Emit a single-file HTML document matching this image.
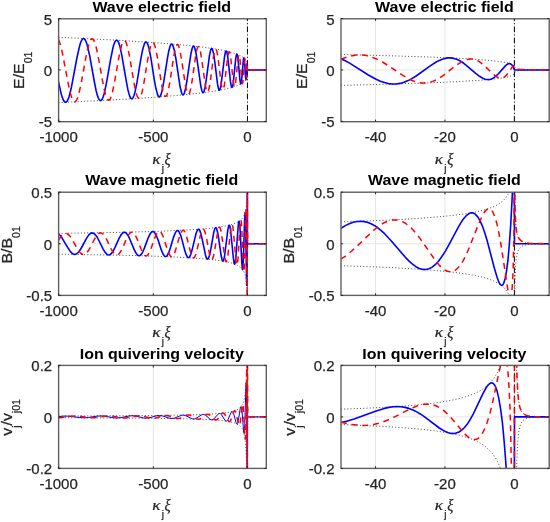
<!DOCTYPE html>
<html><head><meta charset="utf-8"><style>
html,body{margin:0;padding:0;background:#fff;}
svg{display:block;will-change:transform;}
text{font-family:"Liberation Sans",sans-serif;fill:#262626;stroke:#262626;stroke-width:0.25px;}
.t{font-size:15px;}
.ti{font-size:15.3px;font-weight:bold;fill:#000;stroke:none;}
.xl,.yl{font-size:15px;}
.sub{font-size:10px;}
.gr{font-family:"Liberation Serif",serif;font-style:italic;}
</style></head><body>
<svg width="550" height="522" viewBox="0 0 550 522">
<defs><clipPath id="c1"><rect x="58.6" y="18.8" width="207.70000000000002" height="102.9"/></clipPath><clipPath id="c2"><rect x="341.0" y="18.8" width="208.20000000000005" height="102.9"/></clipPath><clipPath id="c3"><rect x="58.6" y="192.2" width="207.70000000000002" height="103.19999999999999"/></clipPath><clipPath id="c4"><rect x="341.0" y="192.2" width="208.20000000000005" height="103.19999999999999"/></clipPath><clipPath id="c5"><rect x="58.6" y="365.4" width="207.70000000000002" height="103.0"/></clipPath><clipPath id="c6"><rect x="341.0" y="365.4" width="208.20000000000005" height="103.0"/></clipPath></defs>
<rect width="550" height="522" fill="#fff"/>
<line x1="58.60" y1="18.8" x2="58.60" y2="121.7" stroke="#e6e6e6" stroke-width="1"/>
<line x1="153.35" y1="18.8" x2="153.35" y2="121.7" stroke="#e6e6e6" stroke-width="1"/>
<line x1="247.45" y1="18.8" x2="247.45" y2="121.7" stroke="#e6e6e6" stroke-width="1"/>
<line x1="58.6" y1="69.95" x2="266.3" y2="69.95" stroke="#e6e6e6" stroke-width="1"/>
<g clip-path="url(#c1)">
<line x1="247.45" y1="121.7" x2="247.45" y2="18.8" stroke="#000" stroke-width="1.0" stroke-dasharray="5.6 2.3 1 2.3"/>
<path d="M58.5 37.3 111.5 39.9 154.6 42.6 172.6 44.1 188.4 45.5 202.1 47.1 213.7 48.7 223.5 50.5 231.3 52.3 237.4 54.3 241.9 56.5 244.7 58.6 245.7 59.8 246.4 61.0 247.2 63.8 247.6 68.9 247.8 69.5 248.2 69.8 250.0 69.9 266.3 69.9" fill="none" stroke="#333" stroke-width="0.9" stroke-dasharray="1 2.2"/>
<path d="M58.5 102.6 111.5 100.0 154.6 97.3 172.6 95.8 188.4 94.4 202.1 92.8 213.7 91.2 223.5 89.4 231.3 87.6 237.4 85.6 241.9 83.4 244.7 81.3 245.7 80.1 246.4 78.9 247.2 76.1 247.6 71.0 247.8 70.4 248.2 70.1 250.0 70.0 266.3 70.0" fill="none" stroke="#333" stroke-width="0.9" stroke-dasharray="1 2.2"/>
<path d="M58.5 81.6 61.0 93.1 62.1 96.9 63.2 99.8 64.3 101.5 65.4 102.3 65.9 102.2 66.4 102.0 67.4 100.7 68.3 98.9 69.2 96.3 71.1 88.8 77.1 57.0 79.3 47.2 80.3 43.5 81.4 40.8 82.4 39.1 83.5 38.4 84.4 38.8 85.4 40.2 86.4 42.5 87.4 45.8 89.7 55.9 94.3 81.5 96.2 91.0 97.3 95.1 98.4 98.1 99.4 99.8 100.4 100.6 101.3 100.3 102.3 99.0 103.2 96.8 104.2 93.5 106.3 83.8 110.7 58.8 112.6 49.5 113.6 45.3 114.6 42.5 115.6 40.8 116.5 40.2 117.4 40.5 118.3 41.8 119.2 44.1 120.1 47.2 122.0 56.4 126.2 80.7 127.9 89.7 128.9 93.5 129.8 96.4 130.7 98.1 131.6 98.8 132.4 98.6 133.2 97.4 134.1 95.2 135.0 92.1 136.9 82.9 140.7 59.6 142.4 50.8 144.2 44.4 145.0 42.7 145.9 42.0 146.6 42.3 147.4 43.4 148.2 45.6 149.0 48.4 150.8 57.5 154.3 79.8 155.9 88.3 157.6 94.6 158.4 96.3 159.1 96.9 159.9 96.7 160.6 95.5 161.3 93.6 162.1 90.6 163.7 82.2 167.1 60.4 168.5 52.3 170.0 46.2 170.8 44.6 171.5 44.0 172.1 44.2 172.8 45.2 174.2 49.8 175.8 58.2 180.1 86.8 181.6 92.7 182.2 94.2 182.9 94.9 183.5 94.6 184.2 93.6 185.4 89.1 186.9 81.0 190.9 53.8 192.2 48.2 192.8 46.7 193.4 46.1 193.9 46.3 194.5 47.2 195.7 51.5 197.0 59.1 200.7 85.5 201.9 90.8 202.5 92.2 203.0 92.7 203.5 92.5 204.0 91.6 205.1 87.5 206.2 80.2 209.5 55.4 210.6 50.4 211.1 49.0 211.6 48.4 212.1 48.7 212.5 49.5 213.5 53.4 214.6 60.4 217.5 83.7 218.4 88.4 218.9 89.7 219.3 90.2 219.7 90.0 220.1 89.2 221.0 85.4 224.5 57.0 225.3 52.6 225.7 51.6 226.1 51.1 226.4 51.2 226.8 52.0 227.6 55.6 230.5 81.7 231.2 85.8 231.9 87.4 232.2 87.3 232.5 86.6 233.2 83.4 235.7 59.2 236.3 55.5 236.8 54.1 237.1 54.3 237.3 54.9 237.9 57.8 239.9 79.6 240.4 82.9 240.8 84.0 241.2 83.2 241.6 80.6 243.2 61.6 243.5 58.9 243.8 57.9 244.1 58.5 244.4 60.9 245.5 76.5 246.0 79.6 246.3 77.0 247.1 63.5 247.4 70.0 266.3 70.0" fill="none" stroke="#0000ff" stroke-width="1.6" stroke-linejoin="round"/>
<path d="M58.5 39.5 60.3 44.3 62.1 51.5 68.1 83.0 70.2 92.8 71.4 96.8 72.4 99.5 73.5 101.2 74.5 101.9 75.0 101.8 75.5 101.5 76.6 100.1 77.6 97.7 78.7 94.3 81.0 84.3 85.7 58.4 87.7 48.7 88.8 44.5 89.9 41.5 90.9 39.6 92.0 38.9 92.9 39.2 93.9 40.4 94.9 42.8 95.9 46.0 98.1 56.0 102.6 81.2 104.4 90.4 105.5 94.5 106.5 97.5 107.6 99.4 108.6 100.2 109.5 99.8 110.4 98.6 111.3 96.3 112.2 93.2 114.3 83.5 118.5 59.3 120.4 49.9 121.4 45.8 122.3 43.1 123.3 41.3 124.2 40.6 125.0 40.9 125.9 42.1 126.7 44.3 127.6 47.3 129.6 56.7 133.6 80.5 135.3 89.5 136.3 93.4 137.1 96.0 138.0 97.7 138.9 98.4 139.6 98.1 140.4 97.0 141.2 94.9 142.1 91.9 143.9 82.8 147.7 59.6 149.3 51.3 150.9 44.9 151.7 43.2 152.6 42.5 153.4 42.8 154.1 43.9 154.9 45.9 155.7 48.9 157.4 57.5 160.8 79.6 162.3 88.0 163.9 94.1 164.6 95.7 165.4 96.4 166.1 96.2 166.8 95.1 168.3 90.3 169.9 81.9 173.1 60.7 174.4 52.8 176.0 46.6 176.7 45.0 177.3 44.5 178.0 44.7 178.6 45.7 179.9 50.3 181.4 58.6 185.6 86.4 187.0 92.2 187.6 93.7 188.2 94.3 188.9 94.1 189.5 93.1 190.7 88.7 192.1 80.8 195.9 54.1 197.1 48.7 197.8 47.2 198.3 46.7 198.8 46.9 199.4 47.7 200.5 51.9 201.7 59.4 205.3 85.2 206.4 90.2 206.9 91.6 207.4 92.1 207.9 91.9 208.4 90.9 209.4 86.8 210.5 79.8 213.6 55.8 214.6 50.9 215.1 49.6 215.6 49.1 216.0 49.3 216.5 50.1 217.4 53.9 218.4 60.8 221.1 83.3 222.0 87.9 222.4 89.1 222.8 89.5 223.2 89.4 223.6 88.6 224.4 84.9 227.6 57.7 228.4 53.4 228.8 52.2 229.1 51.8 229.4 51.9 229.8 52.7 230.5 55.9 233.2 81.3 233.9 85.1 234.5 86.6 234.7 86.5 235.1 85.8 235.6 82.6 237.9 59.7 238.4 56.2 238.9 55.0 239.2 55.1 239.4 55.7 239.9 58.5 241.6 78.7 242.1 81.9 242.4 83.1 242.8 82.4 243.1 79.9 244.5 62.5 245.0 59.0 245.3 59.6 245.5 61.7 246.3 75.6 246.7 78.1 246.9 75.9 247.4 65.9 247.6 69.0 247.9 69.6 248.4 69.9 266.3 69.9" fill="none" stroke="#ff0000" stroke-width="1.5" stroke-dasharray="6 4.8"/>
</g>
<rect x="58.6" y="18.8" width="207.70" height="102.90" fill="none" stroke="#606060" stroke-width="1.4"/>
<line x1="58.60" y1="121.7" x2="58.60" y2="119.60000000000001" stroke="#262626" stroke-width="1.0"/>
<line x1="58.60" y1="18.8" x2="58.60" y2="20.900000000000002" stroke="#262626" stroke-width="1.0"/>
<line x1="153.35" y1="121.7" x2="153.35" y2="119.60000000000001" stroke="#262626" stroke-width="1.0"/>
<line x1="153.35" y1="18.8" x2="153.35" y2="20.900000000000002" stroke="#262626" stroke-width="1.0"/>
<line x1="247.45" y1="121.7" x2="247.45" y2="119.60000000000001" stroke="#262626" stroke-width="1.0"/>
<line x1="247.45" y1="18.8" x2="247.45" y2="20.900000000000002" stroke="#262626" stroke-width="1.0"/>
<line x1="58.6" y1="18.50" x2="60.7" y2="18.50" stroke="#262626" stroke-width="1.0"/>
<line x1="266.3" y1="18.50" x2="264.2" y2="18.50" stroke="#262626" stroke-width="1.0"/>
<line x1="58.6" y1="69.95" x2="60.7" y2="69.95" stroke="#262626" stroke-width="1.0"/>
<line x1="266.3" y1="69.95" x2="264.2" y2="69.95" stroke="#262626" stroke-width="1.0"/>
<line x1="58.6" y1="121.40" x2="60.7" y2="121.40" stroke="#262626" stroke-width="1.0"/>
<line x1="266.3" y1="121.40" x2="264.2" y2="121.40" stroke="#262626" stroke-width="1.0"/>
<text transform="translate(58.60,142.30) scale(1.0,1)" class="t" text-anchor="middle">-1000</text>
<text transform="translate(153.35,142.30) scale(1.0,1)" class="t" text-anchor="middle">-500</text>
<text transform="translate(247.45,142.30) scale(1.0,1)" class="t" text-anchor="middle">0</text>
<text transform="translate(52.20,24.50) scale(1.0,1)" class="t" text-anchor="end">5</text>
<text transform="translate(52.20,75.95) scale(1.0,1)" class="t" text-anchor="end">0</text>
<text transform="translate(52.20,127.40) scale(1.0,1)" class="t" text-anchor="end">-5</text>
<text transform="translate(161.75,12.00) scale(1.045,1)" class="ti" text-anchor="middle">Wave electric field</text>
<text transform="translate(152.15,163.60) scale(1.15,1)" class="gr" font-size="15">κ</text>
<text transform="translate(161.70,171.50)" class="sub">j</text>
<text transform="translate(164.55,164.70) scale(0.88,1)" class="gr" font-size="16.3">ξ</text>
<text transform="translate(24.40,70.25) rotate(-90) scale(1.06,1)" class="yl" text-anchor="middle">E/E<tspan class="sub" dy="7.8">01</tspan></text>
<line x1="375.55" y1="18.8" x2="375.55" y2="121.7" stroke="#e6e6e6" stroke-width="1"/>
<line x1="444.95" y1="18.8" x2="444.95" y2="121.7" stroke="#e6e6e6" stroke-width="1"/>
<line x1="514.40" y1="18.8" x2="514.40" y2="121.7" stroke="#e6e6e6" stroke-width="1"/>
<line x1="341.0" y1="69.95" x2="549.2" y2="69.95" stroke="#e6e6e6" stroke-width="1"/>
<g clip-path="url(#c2)">
<line x1="514.40" y1="121.7" x2="514.40" y2="18.8" stroke="#000" stroke-width="1.0" stroke-dasharray="5.6 2.3 1 2.3"/>
<path d="M340.9 54.5 387.7 55.7 426.1 56.9 456.7 58.2 480.2 59.6 497.2 61.2 503.3 62.1 508.0 63.0 510.6 63.8 512.6 64.6 514.0 65.7 514.7 67.3 515.5 68.1 516.9 68.8 519.0 69.2 522.5 69.6 527.7 69.8 549.1 69.9" fill="none" stroke="#333" stroke-width="0.9" stroke-dasharray="1 2.2"/>
<path d="M340.9 85.4 387.7 84.2 426.1 83.0 456.7 81.7 480.2 80.3 497.2 78.7 503.3 77.8 508.0 76.9 510.6 76.1 512.6 75.3 514.0 74.2 514.7 72.6 515.5 71.8 516.9 71.1 519.0 70.7 522.5 70.3 527.7 70.1 549.1 70.0" fill="none" stroke="#333" stroke-width="0.9" stroke-dasharray="1 2.2"/>
<path d="M340.9 58.7 345.3 60.8 350.0 63.4 368.3 75.0 376.1 79.3 380.4 81.2 384.4 82.6 388.3 83.6 392.2 84.0 396.1 84.0 400.1 83.4 404.0 82.3 408.1 80.6 411.9 78.6 416.1 76.0 430.6 65.6 436.2 62.0 439.3 60.4 442.3 59.2 445.1 58.4 447.8 57.9 450.8 57.9 453.7 58.4 456.7 59.3 459.8 60.7 462.6 62.5 465.7 64.8 475.7 73.4 479.5 76.3 483.3 78.5 485.1 79.2 486.9 79.5 488.8 79.6 490.7 79.2 492.6 78.5 494.6 77.2 498.2 74.0 505.6 65.6 507.4 64.2 509.0 63.6 510.5 63.8 511.9 64.9 513.2 67.0 514.4 69.9 549.1 70.0" fill="none" stroke="#0000ff" stroke-width="1.6" stroke-linejoin="round"/>
<path d="M340.9 59.4 344.9 57.8 348.6 56.5 352.3 55.7 355.9 55.1 359.4 54.9 363.0 55.1 366.4 55.6 370.0 56.5 376.0 58.7 382.5 62.0 388.5 65.8 402.4 75.1 409.2 79.1 412.8 80.7 416.1 81.9 419.3 82.7 422.6 83.1 426.0 83.0 429.3 82.4 432.8 81.4 436.2 79.8 439.6 77.9 443.1 75.6 455.3 66.0 460.0 62.8 462.6 61.3 465.0 60.2 467.3 59.5 469.5 59.1 472.0 59.1 474.4 59.5 476.9 60.3 479.4 61.7 481.6 63.3 484.0 65.3 491.9 73.0 494.7 75.4 497.5 77.2 500.0 78.1 501.4 78.1 502.8 77.8 504.1 77.1 505.5 76.1 508.0 73.3 512.2 67.1 513.0 66.3 513.6 65.9 514.2 66.1 514.8 67.5 515.9 68.3 517.5 68.9 520.0 69.4 528.8 69.8 549.1 69.9" fill="none" stroke="#ff0000" stroke-width="1.5" stroke-dasharray="6 4.8"/>
</g>
<rect x="341.0" y="18.8" width="208.20" height="102.90" fill="none" stroke="#606060" stroke-width="1.4"/>
<line x1="375.55" y1="121.7" x2="375.55" y2="119.60000000000001" stroke="#262626" stroke-width="1.0"/>
<line x1="375.55" y1="18.8" x2="375.55" y2="20.900000000000002" stroke="#262626" stroke-width="1.0"/>
<line x1="444.95" y1="121.7" x2="444.95" y2="119.60000000000001" stroke="#262626" stroke-width="1.0"/>
<line x1="444.95" y1="18.8" x2="444.95" y2="20.900000000000002" stroke="#262626" stroke-width="1.0"/>
<line x1="514.40" y1="121.7" x2="514.40" y2="119.60000000000001" stroke="#262626" stroke-width="1.0"/>
<line x1="514.40" y1="18.8" x2="514.40" y2="20.900000000000002" stroke="#262626" stroke-width="1.0"/>
<line x1="341.0" y1="18.50" x2="343.1" y2="18.50" stroke="#262626" stroke-width="1.0"/>
<line x1="549.2" y1="18.50" x2="547.1" y2="18.50" stroke="#262626" stroke-width="1.0"/>
<line x1="341.0" y1="69.95" x2="343.1" y2="69.95" stroke="#262626" stroke-width="1.0"/>
<line x1="549.2" y1="69.95" x2="547.1" y2="69.95" stroke="#262626" stroke-width="1.0"/>
<line x1="341.0" y1="121.40" x2="343.1" y2="121.40" stroke="#262626" stroke-width="1.0"/>
<line x1="549.2" y1="121.40" x2="547.1" y2="121.40" stroke="#262626" stroke-width="1.0"/>
<text transform="translate(375.55,142.30) scale(1.0,1)" class="t" text-anchor="middle">-40</text>
<text transform="translate(444.95,142.30) scale(1.0,1)" class="t" text-anchor="middle">-20</text>
<text transform="translate(514.40,142.30) scale(1.0,1)" class="t" text-anchor="middle">0</text>
<text transform="translate(334.60,24.50) scale(1.0,1)" class="t" text-anchor="end">5</text>
<text transform="translate(334.60,75.95) scale(1.0,1)" class="t" text-anchor="end">0</text>
<text transform="translate(334.60,127.40) scale(1.0,1)" class="t" text-anchor="end">-5</text>
<text transform="translate(444.40,12.00) scale(1.045,1)" class="ti" text-anchor="middle">Wave electric field</text>
<text transform="translate(434.80,163.60) scale(1.15,1)" class="gr" font-size="15">κ</text>
<text transform="translate(444.35,171.50)" class="sub">j</text>
<text transform="translate(447.20,164.70) scale(0.88,1)" class="gr" font-size="16.3">ξ</text>
<text transform="translate(306.80,70.25) rotate(-90) scale(1.06,1)" class="yl" text-anchor="middle">E/E<tspan class="sub" dy="7.8">01</tspan></text>
<line x1="58.60" y1="192.2" x2="58.60" y2="295.4" stroke="#e6e6e6" stroke-width="1"/>
<line x1="153.35" y1="192.2" x2="153.35" y2="295.4" stroke="#e6e6e6" stroke-width="1"/>
<line x1="247.45" y1="192.2" x2="247.45" y2="295.4" stroke="#e6e6e6" stroke-width="1"/>
<line x1="58.6" y1="243.80" x2="266.3" y2="243.80" stroke="#e6e6e6" stroke-width="1"/>
<g clip-path="url(#c3)">
<line x1="247.45" y1="295.4" x2="247.45" y2="192.2" stroke="#000" stroke-width="1.0" stroke-dasharray="5.6 2.3 1 2.3"/>
<path d="M58.5 233.4 133.1 232.1 160.7 231.2 183.0 230.2 200.6 229.1 214.2 227.8 224.7 226.2 228.8 225.3 232.4 224.3 237.3 222.3 239.3 221.1 240.9 219.7 242.3 218.3 243.5 216.6 244.4 214.7 245.2 212.5 246.2 207.4 246.8 200.3 247.1 191.1 247.4 172.2 247.5 230.5 247.7 239.2 248.0 242.6 248.5 243.5 249.6 243.8 266.3 243.8" fill="none" stroke="#333" stroke-width="0.9" stroke-dasharray="1 2.2"/>
<path d="M58.5 254.2 133.1 255.5 160.7 256.4 183.0 257.4 200.6 258.5 214.2 259.8 224.7 261.4 228.8 262.3 232.4 263.3 237.3 265.3 239.3 266.5 240.9 267.9 242.3 269.3 243.5 271.0 244.4 272.9 245.2 275.1 246.2 280.2 246.8 287.3 247.1 296.5 247.4 315.4 247.5 257.1 247.7 248.4 248.0 245.0 248.5 244.1 249.6 243.8 266.3 243.8" fill="none" stroke="#333" stroke-width="0.9" stroke-dasharray="1 2.2"/>
<path d="M58.5 234.2 60.3 235.7 62.1 238.1 68.2 248.3 70.4 251.6 71.6 252.9 72.7 253.7 73.8 254.2 74.8 254.4 75.9 254.2 77.0 253.5 78.1 252.5 79.4 251.0 81.6 247.5 86.5 238.4 88.8 234.9 90.0 233.8 91.1 233.1 92.2 232.9 93.3 233.2 95.1 234.5 97.1 237.1 98.9 240.5 103.0 248.8 105.1 252.3 107.0 254.4 107.9 254.8 108.8 255.0 109.8 254.7 110.9 254.0 111.9 252.9 113.0 251.3 114.9 247.6 119.2 238.1 121.3 234.5 122.2 233.4 123.1 232.6 124.0 232.3 124.9 232.4 125.8 232.8 126.7 233.6 128.5 236.4 130.2 240.0 134.1 249.4 135.9 252.9 137.5 255.0 138.3 255.5 139.1 255.7 140.0 255.4 140.9 254.7 141.8 253.6 142.8 251.8 144.5 247.9 148.2 237.8 150.0 234.1 151.6 232.0 152.3 231.6 153.1 231.5 153.9 231.9 154.7 232.8 156.4 235.8 158.0 239.8 161.3 249.9 162.9 253.7 164.3 255.9 165.0 256.4 165.7 256.6 166.5 256.3 167.2 255.5 168.8 252.5 170.3 248.1 173.6 237.1 175.1 233.2 176.4 231.1 177.1 230.6 177.7 230.5 178.4 230.9 179.1 231.8 180.6 235.1 181.9 239.4 184.8 250.6 186.2 254.7 187.4 257.0 187.9 257.5 188.5 257.6 189.1 257.4 189.6 256.8 190.8 254.3 192.2 249.6 196.1 233.3 197.4 230.2 198.0 229.5 198.6 229.3 199.1 229.6 199.7 230.4 200.7 233.1 201.9 237.9 205.4 254.7 206.5 258.0 207.0 258.8 207.6 259.1 208.0 258.8 208.5 258.2 209.5 255.2 210.7 249.9 213.8 232.2 214.8 228.6 215.3 227.9 215.8 227.6 216.2 227.9 216.6 228.7 217.5 231.8 218.5 237.4 221.2 256.0 222.1 259.8 222.5 260.7 223.0 261.1 223.3 260.8 223.7 259.9 224.5 256.5 227.8 230.2 228.6 226.4 228.9 225.4 229.3 225.2 229.6 225.6 230.0 226.6 230.6 230.5 233.4 258.3 234.0 262.7 234.3 263.8 234.6 264.1 234.9 263.7 235.2 262.7 235.8 258.2 238.1 227.2 238.5 222.8 239.0 221.3 239.5 222.8 240.0 227.8 241.8 262.8 242.2 267.8 242.5 269.6 242.9 267.5 243.3 261.6 244.6 220.1 245.1 212.8 245.4 215.9 245.6 224.9 246.7 285.4 247.0 261.8 247.4 172.2 247.4 243.8 266.3 243.8" fill="none" stroke="#0000ff" stroke-width="1.6" stroke-linejoin="round"/>
<path d="M58.5 240.0 61.1 236.3 63.3 234.2 64.3 233.6 65.4 233.4 66.4 233.4 67.5 233.9 69.2 235.3 71.2 237.8 77.3 248.6 79.5 251.9 80.7 253.2 81.9 254.0 83.0 254.5 84.1 254.5 85.1 254.1 86.2 253.4 88.3 250.8 90.3 247.4 94.9 238.5 97.1 235.1 98.1 233.9 99.2 233.2 100.2 232.8 101.2 232.9 102.2 233.3 103.1 234.1 105.2 236.8 107.0 240.2 111.2 249.1 113.3 252.6 115.1 254.6 116.0 255.1 116.9 255.1 117.9 254.8 118.8 254.1 120.8 251.3 122.7 247.7 126.7 238.2 128.7 234.6 130.4 232.6 131.3 232.2 132.2 232.1 133.0 232.5 133.9 233.3 135.8 236.1 137.5 239.9 141.2 249.5 143.0 253.2 144.6 255.3 145.4 255.8 146.2 255.9 147.1 255.6 147.9 254.8 149.7 251.9 151.3 247.8 154.9 237.6 156.6 233.9 158.1 231.8 158.8 231.4 159.5 231.3 160.3 231.6 161.1 232.5 162.8 235.6 164.2 239.6 167.5 250.0 169.1 254.0 170.5 256.2 171.1 256.7 171.8 256.8 172.5 256.5 173.3 255.7 174.8 252.4 176.2 248.1 179.3 237.2 180.7 233.1 182.0 230.9 182.6 230.4 183.2 230.3 183.8 230.5 184.4 231.2 185.6 233.7 187.0 238.2 191.0 253.8 192.4 257.0 193.0 257.7 193.6 258.0 194.2 257.7 194.7 257.0 195.8 254.5 197.1 249.6 200.9 233.2 202.1 229.9 202.6 229.2 203.2 228.9 203.7 229.2 204.2 229.9 205.3 232.9 206.4 237.8 209.7 255.1 210.8 258.4 211.3 259.3 211.8 259.5 212.2 259.3 212.7 258.5 213.6 255.5 214.7 250.1 217.7 231.8 218.6 228.3 219.0 227.4 219.5 227.1 219.9 227.4 220.3 228.2 221.1 231.4 222.0 237.3 224.7 256.8 225.5 260.5 225.9 261.4 226.2 261.7 226.6 261.4 226.9 260.5 227.7 257.0 230.7 229.6 231.4 225.6 231.8 224.7 232.1 224.4 232.4 224.8 232.7 225.9 233.3 230.0 235.8 259.1 236.4 263.6 236.7 264.8 236.9 265.1 237.2 264.7 237.4 263.6 238.0 258.9 240.0 226.1 240.5 221.5 240.9 219.8 241.3 221.7 241.7 227.3 243.3 264.9 243.6 270.1 243.9 271.8 244.3 269.3 244.6 262.0 245.6 216.5 246.0 208.7 246.3 212.8 246.5 225.3 247.2 297.5 247.4 172.2 247.5 230.5 247.7 239.2 248.0 242.6 248.5 243.5 249.6 243.8 266.3 243.8" fill="none" stroke="#ff0000" stroke-width="1.5" stroke-dasharray="6 4.8"/>
</g>
<rect x="58.6" y="192.2" width="207.70" height="103.20" fill="none" stroke="#606060" stroke-width="1.4"/>
<line x1="58.60" y1="295.4" x2="58.60" y2="293.29999999999995" stroke="#262626" stroke-width="1.0"/>
<line x1="58.60" y1="192.2" x2="58.60" y2="194.29999999999998" stroke="#262626" stroke-width="1.0"/>
<line x1="153.35" y1="295.4" x2="153.35" y2="293.29999999999995" stroke="#262626" stroke-width="1.0"/>
<line x1="153.35" y1="192.2" x2="153.35" y2="194.29999999999998" stroke="#262626" stroke-width="1.0"/>
<line x1="247.45" y1="295.4" x2="247.45" y2="293.29999999999995" stroke="#262626" stroke-width="1.0"/>
<line x1="247.45" y1="192.2" x2="247.45" y2="194.29999999999998" stroke="#262626" stroke-width="1.0"/>
<line x1="58.6" y1="192.20" x2="60.7" y2="192.20" stroke="#262626" stroke-width="1.0"/>
<line x1="266.3" y1="192.20" x2="264.2" y2="192.20" stroke="#262626" stroke-width="1.0"/>
<line x1="58.6" y1="243.80" x2="60.7" y2="243.80" stroke="#262626" stroke-width="1.0"/>
<line x1="266.3" y1="243.80" x2="264.2" y2="243.80" stroke="#262626" stroke-width="1.0"/>
<line x1="58.6" y1="295.40" x2="60.7" y2="295.40" stroke="#262626" stroke-width="1.0"/>
<line x1="266.3" y1="295.40" x2="264.2" y2="295.40" stroke="#262626" stroke-width="1.0"/>
<text transform="translate(58.60,316.00) scale(1.0,1)" class="t" text-anchor="middle">-1000</text>
<text transform="translate(153.35,316.00) scale(1.0,1)" class="t" text-anchor="middle">-500</text>
<text transform="translate(247.45,316.00) scale(1.0,1)" class="t" text-anchor="middle">0</text>
<text transform="translate(52.20,198.20) scale(1.0,1)" class="t" text-anchor="end">0.5</text>
<text transform="translate(52.20,249.80) scale(1.0,1)" class="t" text-anchor="end">0</text>
<text transform="translate(52.20,301.40) scale(1.0,1)" class="t" text-anchor="end">-0.5</text>
<text transform="translate(161.75,185.40) scale(1.045,1)" class="ti" text-anchor="middle">Wave magnetic field</text>
<text transform="translate(152.15,337.30) scale(1.15,1)" class="gr" font-size="15">κ</text>
<text transform="translate(161.70,345.20)" class="sub">j</text>
<text transform="translate(164.55,338.40) scale(0.88,1)" class="gr" font-size="16.3">ξ</text>
<text transform="translate(12.00,244.80) rotate(-90) scale(1.06,1)" class="yl" text-anchor="middle">B/B<tspan class="sub" dy="7.8">01</tspan></text>
<line x1="375.55" y1="192.2" x2="375.55" y2="295.4" stroke="#e6e6e6" stroke-width="1"/>
<line x1="444.95" y1="192.2" x2="444.95" y2="295.4" stroke="#e6e6e6" stroke-width="1"/>
<line x1="514.40" y1="192.2" x2="514.40" y2="295.4" stroke="#e6e6e6" stroke-width="1"/>
<line x1="341.0" y1="243.80" x2="549.2" y2="243.80" stroke="#e6e6e6" stroke-width="1"/>
<g clip-path="url(#c4)">
<line x1="514.40" y1="295.4" x2="514.40" y2="192.2" stroke="#000" stroke-width="1.0" stroke-dasharray="5.6 2.3 1 2.3"/>
<path d="M340.9 221.9 370.0 220.9 395.2 219.8 416.9 218.5 435.6 217.1 451.3 215.6 464.7 213.9 475.7 212.0 484.9 209.8 491.9 207.4 497.5 204.8 502.0 201.7 503.8 200.0 505.6 198.0 508.0 194.3 509.9 190.0 510.9 186.5 511.8 182.5 513.1 172.2 514.6 172.2 514.9 201.9 515.5 220.3 516.0 226.2 516.6 231.1 517.4 234.8 518.4 237.5 519.6 239.4 521.2 240.9 523.2 241.9 525.8 242.7 529.1 243.2 533.6 243.5 549.1 243.7" fill="none" stroke="#333" stroke-width="0.9" stroke-dasharray="1 2.2"/>
<path d="M340.9 265.7 370.0 266.7 395.2 267.8 416.9 269.1 435.6 270.5 451.3 272.0 464.7 273.7 475.7 275.6 484.9 277.8 491.9 280.2 497.5 282.8 502.0 285.9 503.8 287.6 505.6 289.6 508.0 293.3 509.9 297.6 510.9 301.1 511.8 305.1 513.1 315.4 514.6 315.4 514.9 285.7 515.5 267.3 516.0 261.4 516.6 256.5 517.4 252.8 518.4 250.1 519.6 248.2 521.2 246.7 523.2 245.7 525.8 244.9 529.1 244.4 533.6 244.1 549.1 243.9" fill="none" stroke="#333" stroke-width="0.9" stroke-dasharray="1 2.2"/>
<path d="M340.9 228.3 345.3 225.6 349.3 223.7 353.2 222.3 356.9 221.5 360.7 221.3 364.3 221.6 368.0 222.5 371.5 224.0 374.7 225.7 377.9 227.9 381.2 230.6 384.6 233.7 390.9 240.5 405.2 257.1 408.8 260.9 412.2 263.9 415.9 266.7 419.3 268.5 422.7 269.4 426.0 269.5 429.1 268.7 432.2 267.1 435.2 264.7 438.3 261.5 441.7 256.8 445.4 251.1 449.0 244.6 458.2 227.3 460.8 222.9 463.2 219.3 466.0 215.9 468.6 213.8 469.8 213.2 471.1 212.9 472.3 212.9 473.4 213.1 474.6 213.7 475.7 214.6 477.9 217.1 480.1 220.9 482.3 225.8 484.5 232.1 486.9 239.7 494.4 268.3 497.0 277.1 498.4 281.1 499.7 283.7 500.9 285.1 501.5 285.4 502.1 285.3 502.9 284.7 503.7 283.3 505.1 278.7 506.5 271.2 507.9 260.7 509.3 244.8 510.7 225.1 512.0 201.2 513.3 172.2 514.4 172.2 514.5 243.8 549.1 243.8" fill="none" stroke="#0000ff" stroke-width="1.6" stroke-linejoin="round"/>
<path d="M340.9 259.2 346.0 255.7 351.4 251.3 356.9 246.3 371.5 232.2 375.8 228.5 379.7 225.6 384.2 222.7 388.5 220.9 392.6 219.9 396.5 219.9 398.6 220.3 400.6 220.9 404.6 222.7 408.5 225.6 412.7 229.5 416.2 233.6 420.1 238.6 435.2 260.2 438.6 264.5 441.6 267.6 444.6 269.9 447.5 271.3 450.3 271.8 452.9 271.4 455.4 270.1 457.9 268.0 460.4 265.0 462.9 261.1 465.6 256.0 468.5 249.5 478.3 224.6 482.1 216.2 484.0 212.7 485.9 210.3 487.7 208.9 488.5 208.7 489.4 208.7 490.4 209.2 491.5 210.1 492.5 211.5 493.4 213.3 495.4 218.4 497.3 225.4 499.1 234.2 501.0 244.8 507.8 289.5 509.2 295.9 509.9 297.3 510.4 297.5 510.8 296.9 511.2 295.5 512.0 289.7 512.7 279.8 513.2 266.8 514.0 229.6 514.3 172.2 514.6 172.2 514.9 203.7 515.6 220.9 516.0 226.7 516.6 231.3 517.4 234.8 518.4 237.5 519.6 239.4 521.2 240.9 523.2 241.9 525.8 242.7 529.1 243.2 533.6 243.5 549.1 243.7" fill="none" stroke="#ff0000" stroke-width="1.5" stroke-dasharray="6 4.8"/>
</g>
<rect x="341.0" y="192.2" width="208.20" height="103.20" fill="none" stroke="#606060" stroke-width="1.4"/>
<line x1="375.55" y1="295.4" x2="375.55" y2="293.29999999999995" stroke="#262626" stroke-width="1.0"/>
<line x1="375.55" y1="192.2" x2="375.55" y2="194.29999999999998" stroke="#262626" stroke-width="1.0"/>
<line x1="444.95" y1="295.4" x2="444.95" y2="293.29999999999995" stroke="#262626" stroke-width="1.0"/>
<line x1="444.95" y1="192.2" x2="444.95" y2="194.29999999999998" stroke="#262626" stroke-width="1.0"/>
<line x1="514.40" y1="295.4" x2="514.40" y2="293.29999999999995" stroke="#262626" stroke-width="1.0"/>
<line x1="514.40" y1="192.2" x2="514.40" y2="194.29999999999998" stroke="#262626" stroke-width="1.0"/>
<line x1="341.0" y1="192.20" x2="343.1" y2="192.20" stroke="#262626" stroke-width="1.0"/>
<line x1="549.2" y1="192.20" x2="547.1" y2="192.20" stroke="#262626" stroke-width="1.0"/>
<line x1="341.0" y1="243.80" x2="343.1" y2="243.80" stroke="#262626" stroke-width="1.0"/>
<line x1="549.2" y1="243.80" x2="547.1" y2="243.80" stroke="#262626" stroke-width="1.0"/>
<line x1="341.0" y1="295.40" x2="343.1" y2="295.40" stroke="#262626" stroke-width="1.0"/>
<line x1="549.2" y1="295.40" x2="547.1" y2="295.40" stroke="#262626" stroke-width="1.0"/>
<text transform="translate(375.55,316.00) scale(1.0,1)" class="t" text-anchor="middle">-40</text>
<text transform="translate(444.95,316.00) scale(1.0,1)" class="t" text-anchor="middle">-20</text>
<text transform="translate(514.40,316.00) scale(1.0,1)" class="t" text-anchor="middle">0</text>
<text transform="translate(334.60,198.20) scale(1.0,1)" class="t" text-anchor="end">0.5</text>
<text transform="translate(334.60,249.80) scale(1.0,1)" class="t" text-anchor="end">0</text>
<text transform="translate(334.60,301.40) scale(1.0,1)" class="t" text-anchor="end">-0.5</text>
<text transform="translate(444.40,185.40) scale(1.045,1)" class="ti" text-anchor="middle">Wave magnetic field</text>
<text transform="translate(434.80,337.30) scale(1.15,1)" class="gr" font-size="15">κ</text>
<text transform="translate(444.35,345.20)" class="sub">j</text>
<text transform="translate(447.20,338.40) scale(0.88,1)" class="gr" font-size="16.3">ξ</text>
<text transform="translate(294.40,244.80) rotate(-90) scale(1.06,1)" class="yl" text-anchor="middle">B/B<tspan class="sub" dy="7.8">01</tspan></text>
<line x1="58.60" y1="365.4" x2="58.60" y2="468.4" stroke="#e6e6e6" stroke-width="1"/>
<line x1="153.35" y1="365.4" x2="153.35" y2="468.4" stroke="#e6e6e6" stroke-width="1"/>
<line x1="247.45" y1="365.4" x2="247.45" y2="468.4" stroke="#e6e6e6" stroke-width="1"/>
<line x1="58.6" y1="416.90" x2="266.3" y2="416.90" stroke="#e6e6e6" stroke-width="1"/>
<g clip-path="url(#c5)">
<line x1="247.45" y1="468.4" x2="247.45" y2="365.4" stroke="#000" stroke-width="1.0" stroke-dasharray="5.6 2.3 1 2.3"/>
<path d="M58.5 416.1 146.4 415.6 195.2 414.8 210.3 414.1 221.3 413.3 229.2 412.2 234.9 410.7 236.9 409.7 238.6 408.7 240.1 407.5 241.4 406.1 242.4 404.5 243.3 402.6 244.6 397.6 245.4 391.8 246.0 384.0 246.6 369.1 246.9 345.4 247.5 345.4 247.7 403.2 247.8 412.5 248.2 415.9 248.6 416.6 249.6 416.9 266.3 416.9" fill="none" stroke="#333" stroke-width="0.9" stroke-dasharray="1 2.2"/>
<path d="M58.5 417.7 146.4 418.2 195.2 419.0 210.3 419.7 221.3 420.5 229.2 421.6 234.9 423.1 236.9 424.1 238.6 425.1 240.1 426.3 241.4 427.7 242.4 429.3 243.3 431.2 244.6 436.2 245.4 442.0 246.0 449.8 246.6 464.7 246.9 488.4 247.5 488.4 247.7 430.6 247.8 421.3 248.2 417.9 248.6 417.2 249.6 416.9 266.3 416.9" fill="none" stroke="#333" stroke-width="0.9" stroke-dasharray="1 2.2"/>
<path d="M58.5 416.6 63.4 416.1 67.6 416.1 71.4 416.4 79.8 417.6 84.3 417.8 88.5 417.5 97.3 416.1 101.4 415.9 105.4 416.3 113.5 417.8 117.1 418.0 121.1 417.6 128.9 416.0 132.3 415.7 136.0 416.1 143.2 417.9 146.3 418.2 149.9 417.7 156.8 415.7 159.6 415.5 162.9 416.0 169.3 418.2 171.9 418.5 174.6 418.1 180.6 415.6 182.0 415.2 183.3 415.1 185.8 415.6 191.2 418.4 192.6 418.9 193.8 419.0 194.9 418.9 196.1 418.4 201.1 415.1 202.2 414.6 203.3 414.5 204.3 414.6 205.4 415.1 209.9 419.0 211.0 419.6 211.9 419.8 212.9 419.6 213.9 418.9 217.8 414.4 218.8 413.7 219.6 413.5 220.5 413.7 221.3 414.5 224.8 420.0 225.6 420.9 226.4 421.1 227.1 420.8 227.9 419.8 230.9 412.9 231.6 411.8 232.2 411.5 232.9 412.0 233.5 413.3 236.0 422.4 236.6 423.7 237.1 424.1 237.7 423.4 238.2 421.5 240.2 408.9 240.7 407.1 241.0 406.6 241.5 407.6 242.0 410.6 243.5 430.1 243.8 432.8 244.1 433.5 244.4 431.4 244.8 424.9 245.8 388.4 246.2 382.8 246.4 389.3 246.7 408.4 247.0 488.4 247.4 488.4 247.4 416.9 266.3 416.9" fill="none" stroke="#0000ff" stroke-width="1.0" stroke-linejoin="round"/>
<path d="M58.5 417.7 62.2 417.4 70.7 416.2 75.0 416.0 79.6 416.3 89.0 417.7 93.4 417.8 97.3 417.5 105.3 416.1 109.0 415.9 113.2 416.2 121.4 417.8 125.0 418.0 128.8 417.6 136.1 415.9 139.3 415.7 143.0 416.1 150.2 418.0 153.2 418.3 156.5 417.8 163.1 415.7 165.8 415.4 168.6 415.8 174.8 418.2 176.4 418.5 177.8 418.6 180.3 418.2 186.0 415.5 187.4 415.1 188.7 414.9 189.8 415.1 191.0 415.5 196.3 418.6 197.5 419.0 198.7 419.2 199.8 419.0 200.9 418.5 205.6 415.0 206.7 414.4 207.8 414.3 208.7 414.5 209.8 415.0 214.0 419.2 215.0 419.8 215.9 420.0 216.8 419.8 217.7 419.1 221.4 414.1 222.3 413.3 223.1 413.1 223.9 413.4 224.7 414.2 228.0 420.5 228.8 421.4 229.4 421.6 230.1 421.3 230.8 420.2 233.6 412.3 234.2 411.1 234.7 410.7 235.4 411.2 236.0 412.7 238.3 423.4 238.7 424.9 239.2 425.4 239.7 424.6 240.2 422.2 242.0 406.9 242.4 404.7 242.7 404.1 243.1 405.4 243.5 409.7 244.8 435.3 245.2 439.6 245.6 435.7 245.9 424.2 246.9 356.2 247.1 386.9 247.3 488.4 247.4 488.4 247.4 345.4 247.7 404.6 247.8 412.5 248.2 415.9 248.6 416.6 249.6 416.9 266.3 416.9" fill="none" stroke="#ff0000" stroke-width="1.5" stroke-dasharray="6 4.8"/>
</g>
<rect x="58.6" y="365.4" width="207.70" height="103.00" fill="none" stroke="#606060" stroke-width="1.4"/>
<line x1="58.60" y1="468.4" x2="58.60" y2="466.29999999999995" stroke="#262626" stroke-width="1.0"/>
<line x1="58.60" y1="365.4" x2="58.60" y2="367.5" stroke="#262626" stroke-width="1.0"/>
<line x1="153.35" y1="468.4" x2="153.35" y2="466.29999999999995" stroke="#262626" stroke-width="1.0"/>
<line x1="153.35" y1="365.4" x2="153.35" y2="367.5" stroke="#262626" stroke-width="1.0"/>
<line x1="247.45" y1="468.4" x2="247.45" y2="466.29999999999995" stroke="#262626" stroke-width="1.0"/>
<line x1="247.45" y1="365.4" x2="247.45" y2="367.5" stroke="#262626" stroke-width="1.0"/>
<line x1="58.6" y1="365.40" x2="60.7" y2="365.40" stroke="#262626" stroke-width="1.0"/>
<line x1="266.3" y1="365.40" x2="264.2" y2="365.40" stroke="#262626" stroke-width="1.0"/>
<line x1="58.6" y1="416.90" x2="60.7" y2="416.90" stroke="#262626" stroke-width="1.0"/>
<line x1="266.3" y1="416.90" x2="264.2" y2="416.90" stroke="#262626" stroke-width="1.0"/>
<line x1="58.6" y1="468.40" x2="60.7" y2="468.40" stroke="#262626" stroke-width="1.0"/>
<line x1="266.3" y1="468.40" x2="264.2" y2="468.40" stroke="#262626" stroke-width="1.0"/>
<text transform="translate(58.60,489.00) scale(1.0,1)" class="t" text-anchor="middle">-1000</text>
<text transform="translate(153.35,489.00) scale(1.0,1)" class="t" text-anchor="middle">-500</text>
<text transform="translate(247.45,489.00) scale(1.0,1)" class="t" text-anchor="middle">0</text>
<text transform="translate(52.20,371.40) scale(1.0,1)" class="t" text-anchor="end">0.2</text>
<text transform="translate(52.20,422.90) scale(1.0,1)" class="t" text-anchor="end">0</text>
<text transform="translate(52.20,474.40) scale(1.0,1)" class="t" text-anchor="end">-0.2</text>
<text transform="translate(161.75,358.60) scale(1.045,1)" class="ti" text-anchor="middle">Ion quivering velocity</text>
<text transform="translate(152.15,510.30) scale(1.15,1)" class="gr" font-size="15">κ</text>
<text transform="translate(161.70,518.20)" class="sub">j</text>
<text transform="translate(164.55,511.40) scale(0.88,1)" class="gr" font-size="16.3">ξ</text>
<text transform="translate(12.30,417.40) rotate(-90) scale(1.06,1)" class="yl" text-anchor="middle">v<tspan class="sub" dy="7.8">j</tspan><tspan dy="-7.8">/v</tspan><tspan class="sub" dy="7.8">j01</tspan></text>
<line x1="375.55" y1="365.4" x2="375.55" y2="468.4" stroke="#e6e6e6" stroke-width="1"/>
<line x1="444.95" y1="365.4" x2="444.95" y2="468.4" stroke="#e6e6e6" stroke-width="1"/>
<line x1="514.40" y1="365.4" x2="514.40" y2="468.4" stroke="#e6e6e6" stroke-width="1"/>
<line x1="341.0" y1="416.90" x2="549.2" y2="416.90" stroke="#e6e6e6" stroke-width="1"/>
<g clip-path="url(#c6)">
<line x1="514.40" y1="468.4" x2="514.40" y2="365.4" stroke="#000" stroke-width="1.0" stroke-dasharray="5.6 2.3 1 2.3"/>
<path d="M340.9 409.2 366.8 408.2 389.2 407.0 408.4 405.7 424.9 404.2 438.9 402.4 450.9 400.4 461.1 398.1 469.9 395.4 473.8 393.8 477.5 392.1 480.9 390.3 483.9 388.3 486.7 386.1 489.2 383.8 491.5 381.4 493.7 378.6 495.7 375.5 497.5 372.3 499.1 368.7 500.6 364.9 503.1 356.5 505.4 345.4 516.2 345.4 516.8 373.7 517.8 392.0 518.3 398.5 519.0 403.4 519.9 407.4 521.0 410.4 522.2 412.5 523.7 413.9 525.5 415.0 527.9 415.8 530.8 416.3 534.9 416.6 549.1 416.9" fill="none" stroke="#333" stroke-width="0.9" stroke-dasharray="1 2.2"/>
<path d="M340.9 424.6 366.8 425.6 389.2 426.8 408.4 428.1 424.9 429.6 438.9 431.4 450.9 433.4 461.1 435.7 469.9 438.4 473.8 440.0 477.5 441.7 480.9 443.5 483.9 445.5 486.7 447.7 489.2 450.0 491.5 452.4 493.7 455.2 495.7 458.3 497.5 461.5 499.1 465.1 500.6 468.9 503.1 477.3 505.4 488.4 516.2 488.4 516.8 460.1 517.8 441.8 518.3 435.3 519.0 430.4 519.9 426.4 521.0 423.4 522.2 421.3 523.7 419.9 525.5 418.8 527.9 418.0 530.8 417.5 534.9 417.2 549.1 416.9" fill="none" stroke="#333" stroke-width="0.9" stroke-dasharray="1 2.2"/>
<path d="M340.9 422.5 347.4 421.1 354.1 419.1 376.2 411.0 384.3 408.4 388.8 407.4 393.0 406.8 396.9 406.6 400.8 406.8 404.9 407.4 408.9 408.4 413.0 410.0 417.2 412.1 420.7 414.2 424.6 416.8 439.3 428.0 442.6 430.0 445.4 431.6 448.3 432.7 451.0 433.4 453.6 433.5 456.1 433.1 459.0 432.0 461.7 430.1 464.5 427.5 467.3 424.1 470.1 419.7 473.2 414.2 482.7 394.1 486.0 388.0 487.8 385.4 489.5 383.7 491.0 382.9 492.4 383.0 493.5 383.7 494.7 385.2 495.8 387.5 496.9 390.4 498.8 398.4 500.7 409.7 502.5 423.6 504.1 440.9 505.7 461.1 507.5 488.4 514.4 488.4 514.5 416.9 549.1 416.9" fill="none" stroke="#0000ff" stroke-width="1.6" stroke-linejoin="round"/>
<path d="M340.9 422.2 350.6 424.3 359.0 425.3 363.0 425.4 366.9 425.3 370.8 424.9 374.5 424.3 381.3 422.5 388.4 419.8 395.1 416.7 409.7 409.1 416.5 406.2 420.2 405.0 423.6 404.3 426.9 404.1 430.1 404.2 433.8 405.0 437.4 406.5 441.1 408.6 444.8 411.4 447.9 414.4 451.3 418.0 463.8 432.8 466.3 435.4 468.6 437.3 470.8 438.7 472.9 439.5 474.8 439.6 476.6 439.2 478.1 438.4 479.5 437.3 480.8 435.7 482.1 433.9 484.7 428.9 487.2 422.3 489.6 414.4 492.1 404.6 499.0 372.2 501.0 363.9 502.1 360.2 503.1 357.8 503.9 356.4 504.4 356.2 504.7 356.2 505.4 356.9 506.0 358.5 507.2 364.5 508.2 374.6 509.1 389.0 510.0 408.0 510.6 429.2 511.8 488.4 514.4 488.4 514.5 345.4 516.2 345.4 516.9 373.9 517.8 392.4 518.4 398.8 519.1 403.8 520.0 407.8 521.1 410.6 522.3 412.6 523.7 414.0 525.6 415.1 528.0 415.8 531.0 416.3 535.0 416.6 549.1 416.9" fill="none" stroke="#ff0000" stroke-width="1.5" stroke-dasharray="6 4.8"/>
</g>
<rect x="341.0" y="365.4" width="208.20" height="103.00" fill="none" stroke="#606060" stroke-width="1.4"/>
<line x1="375.55" y1="468.4" x2="375.55" y2="466.29999999999995" stroke="#262626" stroke-width="1.0"/>
<line x1="375.55" y1="365.4" x2="375.55" y2="367.5" stroke="#262626" stroke-width="1.0"/>
<line x1="444.95" y1="468.4" x2="444.95" y2="466.29999999999995" stroke="#262626" stroke-width="1.0"/>
<line x1="444.95" y1="365.4" x2="444.95" y2="367.5" stroke="#262626" stroke-width="1.0"/>
<line x1="514.40" y1="468.4" x2="514.40" y2="466.29999999999995" stroke="#262626" stroke-width="1.0"/>
<line x1="514.40" y1="365.4" x2="514.40" y2="367.5" stroke="#262626" stroke-width="1.0"/>
<line x1="341.0" y1="365.40" x2="343.1" y2="365.40" stroke="#262626" stroke-width="1.0"/>
<line x1="549.2" y1="365.40" x2="547.1" y2="365.40" stroke="#262626" stroke-width="1.0"/>
<line x1="341.0" y1="416.90" x2="343.1" y2="416.90" stroke="#262626" stroke-width="1.0"/>
<line x1="549.2" y1="416.90" x2="547.1" y2="416.90" stroke="#262626" stroke-width="1.0"/>
<line x1="341.0" y1="468.40" x2="343.1" y2="468.40" stroke="#262626" stroke-width="1.0"/>
<line x1="549.2" y1="468.40" x2="547.1" y2="468.40" stroke="#262626" stroke-width="1.0"/>
<text transform="translate(375.55,489.00) scale(1.0,1)" class="t" text-anchor="middle">-40</text>
<text transform="translate(444.95,489.00) scale(1.0,1)" class="t" text-anchor="middle">-20</text>
<text transform="translate(514.40,489.00) scale(1.0,1)" class="t" text-anchor="middle">0</text>
<text transform="translate(334.60,371.40) scale(1.0,1)" class="t" text-anchor="end">0.2</text>
<text transform="translate(334.60,422.90) scale(1.0,1)" class="t" text-anchor="end">0</text>
<text transform="translate(334.60,474.40) scale(1.0,1)" class="t" text-anchor="end">-0.2</text>
<text transform="translate(444.40,358.60) scale(1.045,1)" class="ti" text-anchor="middle">Ion quivering velocity</text>
<text transform="translate(434.80,510.30) scale(1.15,1)" class="gr" font-size="15">κ</text>
<text transform="translate(444.35,518.20)" class="sub">j</text>
<text transform="translate(447.20,511.40) scale(0.88,1)" class="gr" font-size="16.3">ξ</text>
<text transform="translate(294.70,417.40) rotate(-90) scale(1.06,1)" class="yl" text-anchor="middle">v<tspan class="sub" dy="7.8">j</tspan><tspan dy="-7.8">/v</tspan><tspan class="sub" dy="7.8">j01</tspan></text>
</svg>
</body></html>
